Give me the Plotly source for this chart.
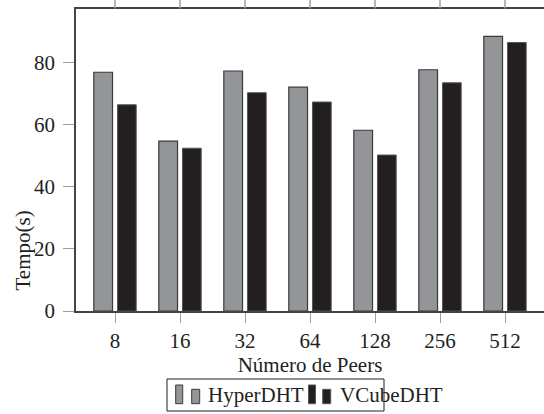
import plotly.graph_objects as go

categories = ["8", "16", "32", "64", "128", "256", "512"]
hyper = [77.0, 54.8, 77.4, 72.2, 58.3, 77.8, 88.6]
vcube = [66.5, 52.5, 70.4, 67.4, 50.3, 73.6, 86.6]
yticks = [0, 20, 40, 60, 80]
series_names = ["HyperDHT", "VCubeDHT"]

xpos = list(range(len(categories)))
XRANGE = [-0.6, 6.6]
FONT = "Liberation Serif"
FS = 21
GRAY, GRAY_EDGE = "#939598", "#3a3a3a"
BLACK, BLACK_EDGE = "#231f20", "#555555"
TICK_COLOR = "#a0a0a0"

W, H = 544, 414
L, T, B = 76, 9, 103
PW, PH = W - L, H - T - B


def px(x):
    return (x - L) / PW


def py(y):
    return (T + PH - y) / PH


fig = go.Figure()
fig.add_trace(go.Bar(
    x=xpos, y=hyper, name=series_names[0], width=0.288, offset=-0.326,
    marker=dict(color=GRAY, line=dict(color=GRAY_EDGE, width=1.2)),
))
fig.add_trace(go.Bar(
    x=xpos, y=vcube, name=series_names[1], width=0.288, offset=0.038,
    marker=dict(color=BLACK, line=dict(color=BLACK_EDGE, width=1.0)),
))

shapes = []
# mirrored tick marks above the top axis line (pgfplots style), in paper coords
for xv in xpos:
    xp = (xv - XRANGE[0]) / (XRANGE[1] - XRANGE[0])
    shapes.append(dict(type="line", xref="paper", yref="paper",
                       x0=xp, x1=xp, y0=py(T - 0.5), y1=py(0),
                       line=dict(color=TICK_COLOR, width=1.5), layer="above"))

# custom pgfplots-style legend (box, two bar icons per entry, label)
shapes.append(dict(type="rect", xref="paper", yref="paper",
                   x0=px(167), x1=px(384), y0=py(411), y1=py(379),
                   line=dict(color="#231f20", width=1), fillcolor="white", layer="above"))
legend_items = [
    (GRAY, GRAY_EDGE, 175.7, 191.7, 205.7, series_names[0]),
    (BLACK, BLACK_EDGE, 308.5, 322.7, 338.3, series_names[1]),
]
annotations = []
for fill, edge, xt, xs, xtext, name in legend_items:
    shapes.append(dict(type="rect", xref="paper", yref="paper",
                       x0=px(xt), x1=px(xt + 7), y0=py(403.7), y1=py(385),
                       line=dict(color=edge, width=1), fillcolor=fill, layer="above"))
    shapes.append(dict(type="rect", xref="paper", yref="paper",
                       x0=px(xs), x1=px(xs + 8), y0=py(403.7), y1=py(389.3),
                       line=dict(color=edge, width=1), fillcolor=fill, layer="above"))
    annotations.append(dict(text=name, x=px(xtext), y=py(395), xref="paper", yref="paper",
                            xanchor="left", yanchor="middle", showarrow=False,
                            font=dict(family=FONT, size=FS, color="#231f20")))

annotations.append(dict(
    text="Tempo(s)", textangle=-90,
    x=px(22.5), y=py(251), xref="paper", yref="paper",
    xanchor="center", yanchor="middle",
    showarrow=False, font=dict(family=FONT, size=FS),
))

fig.update_layout(
    width=W, height=H,
    margin=dict(l=L, r=0, t=T, b=B, autoexpand=False),
    paper_bgcolor="white", plot_bgcolor="white",
    font=dict(family=FONT, size=FS, color="#231f20"),
    barmode="overlay",
    showlegend=False,
    xaxis=dict(
        range=XRANGE, tickmode="array", tickvals=xpos, ticktext=categories,
        showgrid=False, zeroline=False, automargin=False,
        showline=True, linecolor="#444444", linewidth=1.5, mirror=True,
        ticks="outside", ticklen=10, tickcolor=TICK_COLOR, tickwidth=1.2,
        title=dict(text="Número de Peers", font=dict(family=FONT, size=FS), standoff=4),
    ),
    yaxis=dict(
        range=[0, 97.4], tickmode="array", tickvals=yticks,
        showgrid=False, zeroline=False, automargin=False,
        showline=True, linecolor="#444444", linewidth=1.5,
        ticks="outside", ticklen=11, tickcolor=TICK_COLOR, tickwidth=1.2,
        ticklabelstandoff=4,
    ),
    shapes=shapes,
    annotations=annotations,
)

fig.write_html(
    "out.html",
    config={"displayModeBar": False},
    post_script="document.body.style.margin='0';document.body.style.overflow='hidden';",
)
